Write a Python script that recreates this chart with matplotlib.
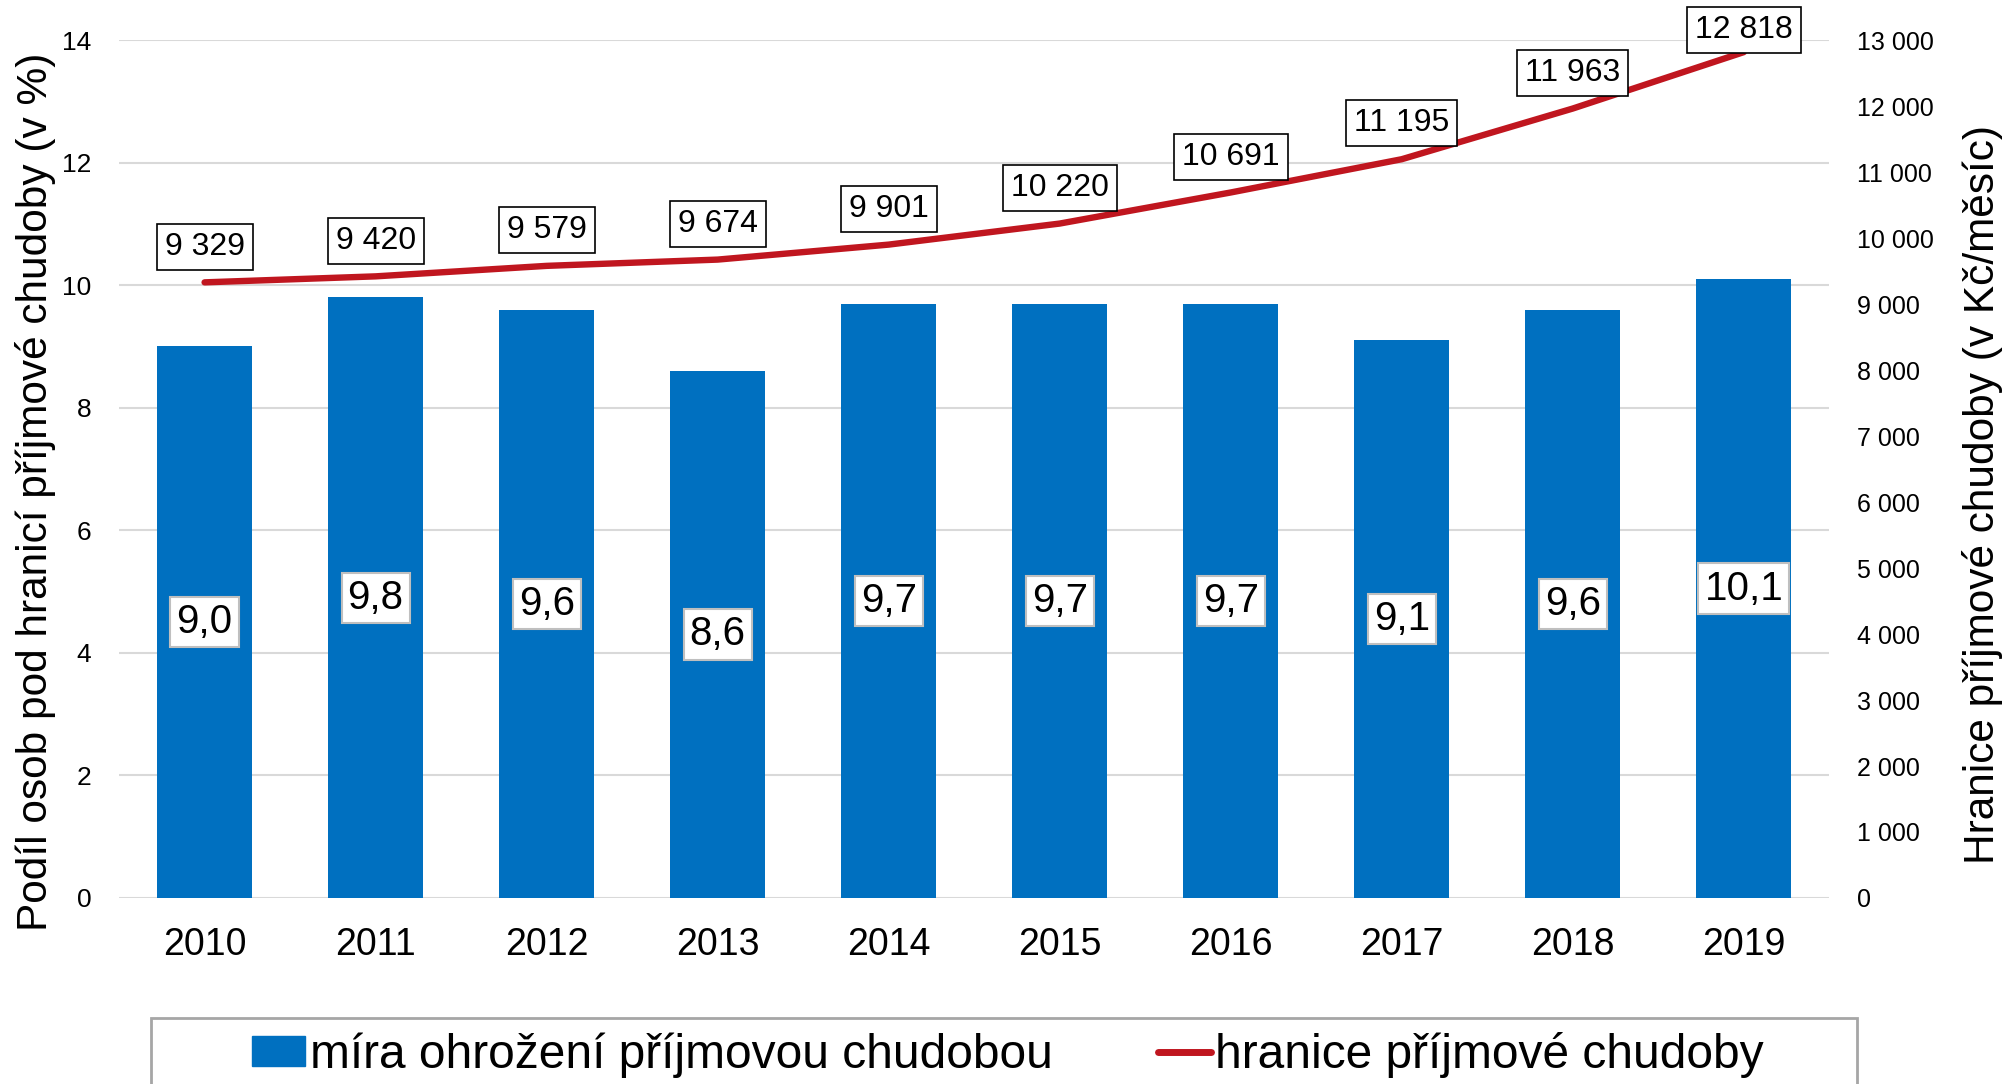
import matplotlib
matplotlib.use("Agg")
import matplotlib.pyplot as plt
from matplotlib.patches import Rectangle, Patch
from matplotlib.lines import Line2D
from matplotlib.ticker import FuncFormatter

# data
years = ["2010", "2011", "2012", "2013", "2014", "2015", "2016", "2017", "2018", "2019"]
mira = [9.0, 9.8, 9.6, 8.6, 9.7, 9.7, 9.7, 9.1, 9.6, 10.1]
hranice = [9329, 9420, 9579, 9674, 9901, 10220, 10691, 11195, 11963, 12818]

BLUE = "#0070C0"
RED = "#C0161F"
GRID = "#D9D9D9"

plt.rcParams['font.family'] = ['Liberation Sans', 'DejaVu Sans']
NARROW = ['Liberation Sans Narrow', 'Liberation Sans', 'DejaVu Sans']


def cz_int(v, pos=None):
    return f"{int(round(v)):,}".replace(",", " ")


def cz_dec(v):
    return f"{v:.1f}".replace(".", ",")


fig = plt.figure(figsize=(20.08, 10.84), dpi=100)
ax = fig.add_axes([0.0593, 0.1716, 0.8517, 0.7914])
ax2 = ax.twinx()

x = list(range(len(years)))

# sloupce - mira ohrozeni
ax.bar(x, mira, width=0.555, color=BLUE, zorder=2)
ax.set_xlim(-0.5, len(years) - 0.5)
ax.set_ylim(0, 14)
ax.set_yticks(range(0, 15, 2))
ax.yaxis.grid(True, color=GRID, lw=1.5, zorder=0)
ax.set_axisbelow(True)
ax.set_xticks(x)
ax.set_xticklabels(years, fontsize=27)
ax.tick_params(axis='x', length=0, pad=21)
ax.tick_params(axis='y', length=0, pad=20, labelsize=19)
for s in ax.spines.values():
    s.set_visible(False)
ax.set_ylabel("Podíl osob pod hranicí příjmové chudoby (v %)", fontsize=30.5,
              family=NARROW, labelpad=4)
ax.yaxis.label.set_y(0.473)

for xi, v in zip(x, mira):
    ax.text(xi, v / 2, cz_dec(v), ha='center', va='center', fontsize=29, zorder=4,
            bbox=dict(boxstyle='square,pad=0.15', fc='white', ec='#BFBFBF', lw=1.5))

# cara - hranice chudoby
ax2.plot(x, hranice, color=RED, lw=4.6, solid_capstyle='round', zorder=3)
ax2.set_ylim(0, 13000)
ax2.set_yticks(range(0, 13001, 1000))
ax2.yaxis.set_major_formatter(FuncFormatter(cz_int))
ax2.tick_params(axis='y', length=0, pad=20, labelsize=18)
for s in ax2.spines.values():
    s.set_visible(False)
ax2.set_ylabel("Hranice příjmové chudoby (v Kč/měsíc)", fontsize=30.5,
               family=NARROW, labelpad=20)
ax2.yaxis.label.set_y(0.47)

for i, (xi, v) in enumerate(zip(x, hranice)):
    off = 5 if i == len(x) - 1 else 15
    ax2.annotate(cz_int(v), (xi, v), xytext=(0, off), textcoords='offset points',
                 ha='center', va='bottom', fontsize=23, zorder=5, annotation_clip=False,
                 bbox=dict(boxstyle='square,pad=0.25', fc='white', ec='black', lw=1.2))

# legenda
fig.patches.append(Rectangle((0.0752, -0.05), 0.8496, 0.111, transform=fig.transFigure,
                             fc='white', ec='#A6A6A6', lw=2))
handles = [Patch(color=BLUE), Line2D([0], [0], color=RED, lw=5, solid_capstyle='round')]
fig.legend(handles, ["míra ohrožení příjmovou chudobou", "hranice příjmové chudoby"],
           loc='center', bbox_to_anchor=(0.502, 0.027), ncol=2, frameon=False,
           prop=dict(family=NARROW, size=34.5), handlelength=1.1, handletextpad=0.1,
           columnspacing=2.2, handleheight=0.6)

fig.savefig("out.png", dpi=100)
